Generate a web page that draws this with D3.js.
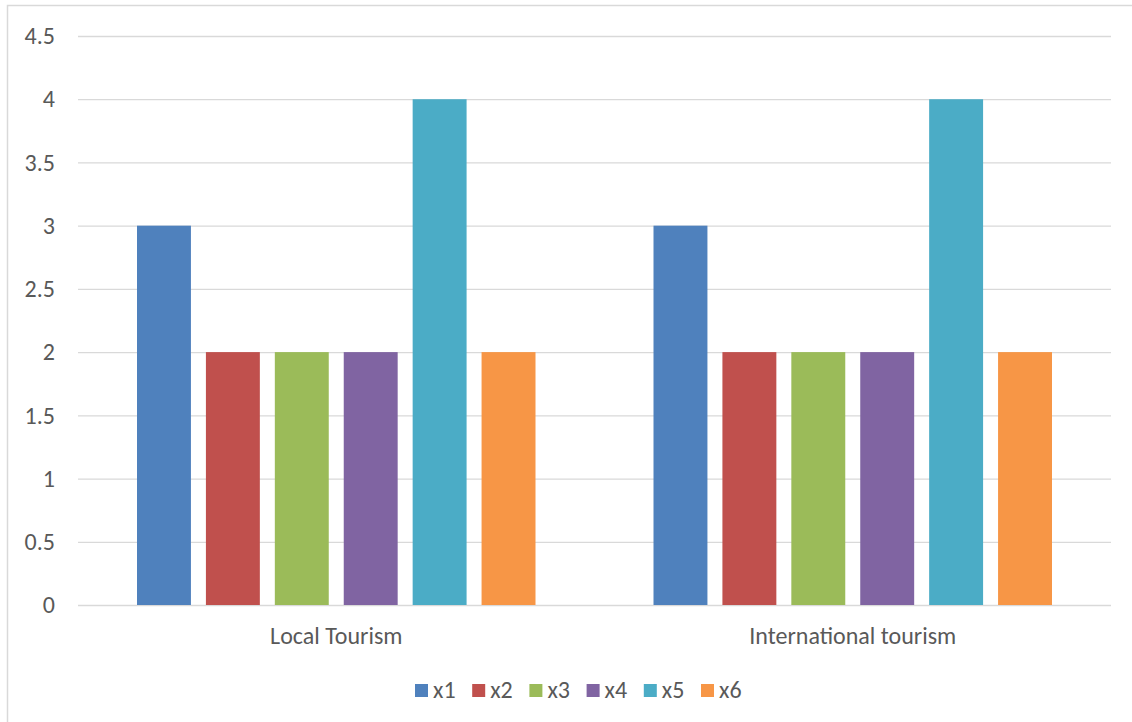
<!doctype html>
<html>
	<head>
		<meta charset="utf-8">
		<title>Tourism chart</title>
		<style>
			body{
				margin: 0;
				background-color: white;
			}
			svg text{
				font-family: Carlito, Calibri, Lato, sans-serif;
				fill: #595959;
			}
		</style>
	</head>
	<body>
		<div id="chart"></div>
		<script src="https://cdn.jsdelivr.net/npm/d3@7"></script>
		<script>
			var categories = ["Local Tourism", "International tourism"];
			var seriesNames = ["x1", "x2", "x3", "x4", "x5", "x6"];
			var seriesColors = ["#4F81BD", "#C0504D", "#9BBB59", "#8064A2", "#4BACC6", "#F79646"];
			// one row per category, one value per series
			var values = [
				[3, 2, 2, 2, 4, 2],
				[3, 2, 2, 2, 4, 2]
			];
			var yTicks = [0, 0.5, 1, 1.5, 2, 2.5, 3, 3.5, 4, 4.5];

			var width = 1132, height = 722;
			var plotLeft = 78, plotRight = 1111, plotTop = 36, plotBottom = 605;

			var svg = d3.select("#chart").append("svg")
				.attr("width", width).attr("height", height);

			// outer chart frame
			svg.append("rect")
				.attr("x", 7.5).attr("y", 5.5)
				.attr("width", 1140).attr("height", 740)
				.style("fill", "white")
				.style("stroke", "#d9d9d9")
				.style("stroke-width", 1.5);

			var y = d3.scaleLinear().domain([0, 4.5]).range([plotBottom, plotTop]);
			var x0 = d3.scaleBand().domain(categories).range([plotLeft, plotRight]);
			var x1 = d3.scaleBand().domain(seriesNames)
				.range([59, x0.bandwidth() - 59])
				.paddingInner(15 / 69);

			// gridlines + y labels
			var yAxis = svg.append("g")
				.attr("transform", "translate(" + plotLeft + ",0)")
				.call(d3.axisLeft(y).tickValues(yTicks)
					.tickSize(-(plotRight - plotLeft)).tickPadding(23)
					.tickFormat(function(d){ return String(d); }));
			yAxis.select(".domain").remove();
			yAxis.selectAll("line").style("stroke", "#d9d9d9").style("stroke-width", 1.3);
			yAxis.selectAll("text").style("font-size", "24px").style("fill", "#595959");

			var groups = svg.selectAll(".group")
				.data(values).enter()
				.append("g")
				.attr("class", "group")
				.attr("transform", function(d, i){
					return "translate(" + x0(categories[i]) + ",0)";
				});

			groups.selectAll("rect")
				.data(function(d){ return d; })
				.enter().append("rect")
				.attr("x", function(d, i){ return x1(seriesNames[i]); })
				.attr("y", function(d){ return y(d); })
				.attr("width", x1.bandwidth())
				.attr("height", function(d){ return plotBottom - y(d); })
				.style("fill", function(d, i){ return seriesColors[i]; });

			// category labels
			var xAxis = svg.append("g")
				.attr("transform", "translate(0," + plotBottom + ")")
				.call(d3.axisBottom(x0).tickSize(0).tickPadding(0));
			xAxis.select(".domain").remove();
			xAxis.selectAll("text")
				.attr("dy", null).attr("y", 39)
				.style("font-size", "24px").style("fill", "#595959");

			// legend
			var legend = svg.append("g").attr("transform", "translate(415,684)");
			var items = legend.selectAll("g")
				.data(seriesNames).enter()
				.append("g")
				.attr("transform", function(d, i){ return "translate(" + i * 57.2 + ",0)"; });
			items.append("rect")
				.attr("width", 13).attr("height", 13)
				.style("fill", function(d, i){ return seriesColors[i]; });
			items.append("text")
				.attr("x", 18).attr("y", 14)
				.style("font-size", "24px")
				.text(function(d){ return d; });
		</script>
	</body>
</html>
